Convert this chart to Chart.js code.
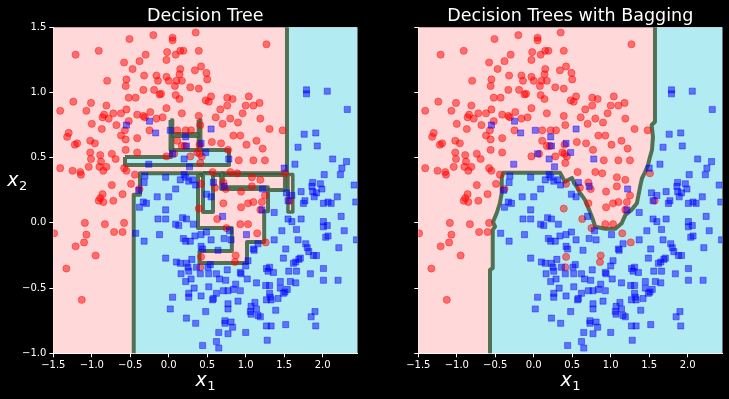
<!DOCTYPE html>
<html>
<head>
<meta charset="utf-8">
<script src="https://cdn.jsdelivr.net/npm/chart.js@4"></script>
<style>
  html, body { margin: 0; padding: 0; background: #000; }
  #wrap { position: relative; width: 729px; height: 399px; background: #000; }
  canvas { position: absolute; top: 0; }
  #treeChart { left: 0; }
  #bagChart { left: 365px; }
</style>
</head>
<body>
<div id="wrap">
  <canvas id="treeChart" width="365" height="399"></canvas>
  <canvas id="bagChart" width="364" height="399"></canvas>
</div>
<script>
// axes
const xRange = [-1.5, 2.45];
const yRange = [-1.0, 1.5];
const xTicks = [-1.5, -1.0, -0.5, 0.0, 0.5, 1.0, 1.5, 2.0];
const yTicks = [-1.0, -0.5, 0.0, 0.5, 1.0, 1.5];
const titles = ['Decision Tree', 'Decision Trees with Bagging'];

// class 0 (red circles)
const class0 = [
  [0.35,1.46],[-0.20,1.44],[0.05,1.42],[0.05,1.40],[-0.51,1.41],[1.27,1.37],[-1.21,1.29],[-0.91,1.32],
  [0.15,1.32],[0.19,1.32],[-0.02,1.31],[0.39,1.32],[0.09,1.29],[-0.30,1.29],[-0.58,1.23],[-0.38,1.24],
  [-0.03,1.25],[-0.47,1.18],[0.42,1.20],[0.34,1.17],[0.15,1.18],[0.49,1.15],[-0.32,1.13],[-0.16,1.13],
  [-0.03,1.12],[0.14,1.14],[0.50,1.10],[-0.55,1.10],[-0.14,1.09],[0.17,1.09],[0.00,1.09],[0.10,1.09],
  [-0.80,1.09],[0.28,1.04],[-0.56,1.05],[0.39,1.03],[0.08,1.05],[-0.19,1.02],[-0.33,1.02],[-0.10,0.99],
  [-0.12,0.985],[0.09,0.98],[0.14,0.95],[-0.52,0.96],[-0.43,0.96],[-1.24,0.93],[-1.01,0.92],[-0.81,0.90],
  [-0.03,0.88],[0.48,0.94],[0.55,0.97],[0.76,0.96],[0.83,0.95],[1.04,0.97],[0.52,0.93],[1.00,0.90],
  [1.18,0.92],[1.10,0.90],[-1.41,0.86],[-1.07,0.86],[-0.84,0.83],[-0.72,0.84],[-0.62,0.84],[-0.55,0.87],
  [-0.41,0.83],[-0.33,0.82],[-0.24,0.85],[-0.08,0.81],[0.17,0.84],[0.39,0.82],[0.67,0.87],[0.76,0.90],
  [0.96,0.84],[0.80,0.80],[-0.86,0.81],[-0.78,0.80],[-1.00,0.76],[-0.68,0.75],[-0.52,0.78],[-0.31,0.81],
  [-0.16,0.80],[0.41,0.75],[0.61,0.81],[0.70,0.76],[0.90,0.77],[1.19,0.80],[1.31,0.72],[1.48,0.71],
  [-0.87,0.72],[-0.62,0.67],[-0.57,0.71],[-0.25,0.71],[0.11,0.71],[0.22,0.71],[0.29,0.71],[-1.30,0.69],
  [-1.32,0.66],[-1.22,0.60],[-1.19,0.61],[-0.96,0.61],[-1.02,0.63],[-0.56,0.64],[-0.41,0.65],[0.11,0.63],
  [0.17,0.59],[0.21,0.59],[0.40,0.60],[0.56,0.62],[0.68,0.61],[0.84,0.67],[0.93,0.67],[1.01,0.60],
  [1.14,0.63],[1.22,0.57],[-1.02,0.54],[-0.89,0.52],[-0.74,0.53],[-0.56,0.56],[-0.41,0.54],[-0.03,0.51],
  [0.07,0.53],[0.28,0.51],[0.37,0.54],[0.40,0.53],[0.43,0.51],[0.77,0.56],[0.91,0.48],[1.10,0.48],
  [1.25,0.48],[-1.01,0.49],[-0.88,0.47],[-1.41,0.42],[-1.25,0.40],[-1.15,0.39],[-1.14,0.37],[-1.04,0.43],
  [-0.90,0.43],[-0.85,0.40],[-0.81,0.43],[-0.69,0.49],[-0.58,0.42],[-0.55,0.40],[-0.44,0.37],[0.41,0.46],
  [0.57,0.39],[0.80,0.39],[0.89,0.38],[1.08,0.35],[1.51,0.38],[-0.74,0.29],[-0.86,0.22],[-0.60,0.22],
  [-0.49,0.30],[-0.38,0.26],[0.42,0.30],[0.60,0.27],[0.71,0.31],[0.74,0.26],[0.94,0.24],[1.08,0.28],
  [1.19,0.33],[1.25,0.21],[-0.89,0.19],[-0.91,0.17],[-0.72,0.17],[-0.85,0.16],[-1.09,0.00],[-0.83,-0.01],
  [-0.58,0.00],[-1.49,-0.08],[-1.07,-0.09],[-0.71,-0.07],[-0.60,-0.07],[-1.21,-0.18],[-1.10,-0.15],
  [-0.95,-0.25],[-1.33,-0.35],[-1.13,-0.59],[0.39,0.11],[0.71,0.15],[0.94,0.12],[1.03,0.15],[1.10,0.16],
  [1.21,0.16],[0.63,0.03],[0.93,-0.01],[1.03,-0.01],[0.75,-0.04],[1.15,-0.08],[1.26,-0.15],[0.42,-0.26],
  [0.87,-0.25],[0.86,-0.30],[0.41,-0.34],[1.19,0.10],[1.57,0.17]
];

// class 1 (blue squares)
const class1 = [
  [1.79,1.02],[1.79,0.99],[2.06,1.01],[2.32,0.87],[-0.55,0.75],[-0.25,0.78],[0.55,0.72],[0.02,0.71],
  [-0.17,0.69],[0.22,0.66],[0.23,0.59],[0.42,0.61],[0.48,0.54],[0.05,0.53],[0.20,0.49],[0.27,0.43],
  [0.78,0.49],[-0.26,0.45],[1.76,0.68],[1.91,0.69],[1.68,0.58],[1.93,0.59],[2.13,0.49],[1.64,0.45],
  [2.31,0.47],[2.25,0.42],[1.50,0.42],[2.02,0.37],[2.23,0.37],[2.41,0.29],[1.87,0.31],[1.97,0.30],
  [1.86,0.28],[1.87,0.24],[1.92,0.23],[1.89,0.20],[1.72,0.24],[1.99,0.26],[1.53,0.23],[1.60,0.21],
  [2.19,0.20],[-0.31,0.36],[-0.32,0.31],[-0.04,0.35],[0.20,0.37],[0.22,0.35],[0.26,0.32],[0.31,0.33],
  [0.35,0.29],[0.15,0.33],[0.09,0.26],[-0.15,0.20],[0.00,0.20],[-0.39,0.25],[0.58,0.31],[0.72,0.28],
  [0.49,0.22],[0.55,0.20],[1.22,0.26],[-0.33,0.16],[-0.29,0.15],[-0.38,0.12],[-0.04,0.10],[-0.14,0.03],
  [-0.04,0.03],[0.18,0.04],[0.23,0.03],[0.09,-0.01],[0.13,-0.02],[0.32,-0.01],[-0.43,-0.08],[-0.12,-0.09],
  [-0.32,-0.14],[0.19,-0.12],[0.22,-0.14],[0.28,-0.14],[0.34,-0.10],[0.42,-0.09],[0.49,-0.07],[0.55,-0.13],
  [0.70,0.05],[0.79,-0.06],[0.72,-0.12],[0.81,-0.13],[1.01,-0.09],[1.16,-0.16],[1.10,-0.20],[1.11,-0.21],
  [1.21,0.10],[1.37,0.08],[1.55,0.03],[1.60,0.01],[1.72,0.03],[1.66,-0.05],[1.47,-0.06],[1.37,-0.13],
  [1.52,-0.20],[1.68,-0.13],[1.78,-0.16],[1.80,-0.19],[1.82,-0.22],[1.88,-0.25],[1.92,-0.25],[2.01,0.01],
  [2.06,-0.02],[2.07,-0.10],[2.04,-0.11],[2.01,-0.03],[2.24,0.05],[2.28,-0.06],[2.21,-0.19],[2.01,0.15],
  [2.07,0.16],[2.11,0.15],[1.75,0.15],[1.77,0.17],[1.55,0.17],[2.43,0.16],[2.44,-0.13],[-0.04,-0.27],
  [0.10,-0.30],[0.15,-0.31],[0.23,-0.31],[0.25,-0.34],[0.26,-0.37],[0.30,-0.28],[0.36,-0.34],[0.42,-0.18],
  [0.44,-0.20],[0.41,-0.39],[0.51,-0.34],[0.52,-0.39],[0.54,-0.32],[0.62,-0.39],[0.64,-0.21],[0.76,-0.36],
  [0.93,-0.38],[0.94,-0.39],[1.03,-0.29],[1.00,-0.33],[1.27,-0.35],[1.29,-0.37],[1.31,-0.34],[1.36,-0.38],
  [1.49,-0.27],[1.62,-0.31],[1.65,-0.30],[1.69,-0.28],[1.71,-0.27],[1.66,-0.37],[2.01,-0.35],[0.22,-0.45],
  [0.29,-0.43],[0.52,-0.49],[0.66,-0.43],[0.74,-0.44],[0.87,-0.47],[1.02,-0.43],[1.14,-0.46],[1.26,-0.48],
  [1.31,-0.48],[1.45,-0.45],[1.58,-0.45],[1.65,-0.46],[1.84,-0.39],[2.01,-0.44],[2.20,-0.44],[0.33,-0.50],
  [0.26,-0.54],[0.26,-0.57],[0.42,-0.56],[0.62,-0.54],[0.71,-0.52],[0.77,-0.52],[0.84,-0.51],[0.93,-0.52],
  [1.31,-0.54],[1.32,-0.57],[1.33,-0.59],[1.45,-0.50],[1.49,-0.54],[1.54,-0.51],[1.51,-0.53],[1.42,-0.58],
  [1.27,-0.59],[0.05,-0.57],[0.02,-0.66],[0.57,-0.59],[0.58,-0.58],[0.77,-0.62],[0.77,-0.66],[0.90,-0.60],
  [1.12,-0.61],[1.07,-0.64],[1.06,-0.68],[1.07,-0.70],[1.14,-0.66],[1.16,-0.71],[1.19,-0.72],[1.39,-0.67],
  [0.48,-0.68],[0.23,-0.73],[0.35,-0.77],[0.73,-0.75],[0.73,-0.77],[0.81,-0.76],[0.83,-0.80],[0.77,-0.85],
  [1.00,-0.84],[1.27,-0.79],[1.33,-0.79],[1.52,-0.78],[1.28,-0.90],[0.65,-0.84],[0.62,-0.91],[0.65,-0.96],
  [0.44,-0.94],[1.85,-0.72],[1.90,-0.68],[1.91,-0.79],[1.56,-0.37],[0.16,-0.39]
];

// decision regions (polygon vertices in data units)
const wholePlane = [[-3,-3],[4,-3],[4,3],[-3,3],[-3,-3]];
const treeCyanMain = [[-0.455,-1.3],[-0.455,0.215],[-0.374,0.215],[-0.374,0.38],[1.536,0.38],[1.536,1.8],
  [2.8,1.8],[2.8,-1.3],[-0.455,-1.3]];
const treePinkPocket = [[0.38,0.367],[1.51,0.367],[1.51,0.252],[1.29,0.252],[1.29,0.09],[1.24,0.09],
  [1.24,-0.146],[1.017,-0.146],[1.017,-0.308],[0.40,-0.308],[0.40,-0.215],[0.82,-0.215],[0.82,-0.039],
  [0.38,-0.039],[0.38,0.367]];
const treePinkSliver = [[1.549,0.372],[1.612,0.372],[1.612,0.084],[1.549,0.084],[1.549,0.372]];
const treeCyanFinger = [[0.445,0.38],[0.575,0.38],[0.575,0.084],[0.445,0.084],[0.445,0.38]];
const treeCyanHook = [[0.679,0.38],[0.705,0.38],[0.705,0.275],[1.29,0.275],[1.29,0.258],[0.679,0.258],[0.679,0.38]];
const treeCyanStrip = [[-0.568,0.505],[0.03,0.505],[0.03,0.559],[0.783,0.559],[0.783,0.444],[-0.568,0.444],[-0.568,0.505]];
const treeCyanStemL = [[0.02,0.79],[0.05,0.79],[0.05,0.559],[0.02,0.559],[0.02,0.79]];
const treeCyanStemR = [[0.385,0.79],[0.415,0.79],[0.415,0.559],[0.385,0.559],[0.385,0.79]];
const treeCyanBar = [[0.05,0.683],[0.385,0.683],[0.385,0.665],[0.05,0.665],[0.05,0.683]];

const bagCyanRegion = [[-0.568,-1.3],[-0.568,-0.361],[-0.533,-0.346],[-0.533,-0.054],[-0.503,-0.029],
  [-0.530,0.007],[-0.481,0.076],[-0.439,0.153],[-0.416,0.229],[-0.416,0.344],[-0.396,0.385],[0.341,0.385],
  [0.406,0.316],[0.445,0.329],[0.497,0.344],[0.523,0.306],[0.562,0.275],[0.601,0.229],[0.666,0.176],
  [0.72,0.10],[0.76,0.04],[0.80,-0.03],[0.93,-0.045],[1.06,-0.045],[1.14,-0.005],[1.19,0.06],[1.27,0.10],
  [1.34,0.15],[1.381,0.275],[1.407,0.344],[1.446,0.390],[1.485,0.444],[1.510,0.505],[1.536,0.559],
  [1.549,0.659],[1.532,0.751],[1.575,0.776],[1.575,1.8],[2.8,1.8],[2.8,-1.3],[-0.568,-1.3]];

const pinkFill = 'rgb(255,217,217)';
const cyanFill = 'rgb(179,235,242)';
const edgeColor = 'rgba(58,92,58,0.85)';
const fontFamily = '"DejaVu Sans"';

Chart.defaults.font.family = fontFamily;
Chart.defaults.color = '#ffffff';

function region(pts, color, order, bw) {
  return {
    data: pts.map(p => ({x: p[0], y: p[1]})),
    showLine: true, fill: 'shape', backgroundColor: color,
    borderColor: edgeColor, borderWidth: bw, pointRadius: 0,
    borderJoinStyle: 'round', order: order, clip: 0
  };
}

function pointsSet(pts, style, color, r, order) {
  return {
    data: pts.map(p => ({x: p[0], y: p[1]})),
    showLine: false, pointStyle: style, pointRadius: r,
    backgroundColor: color, borderColor: color, borderWidth: 0.8,
    order: order, clip: 0
  };
}

function tickText(v) {
  const s = Math.abs(v) < 1e-9 ? '0.0' : v.toFixed(1);
  return s.replace('-', '\u2212');
}

function drawMath(ctx, base, sub, cx, y) {
  ctx.font = 'italic 19px ' + fontFamily;
  const w1 = ctx.measureText(base).width;
  ctx.font = '13px ' + fontFamily;
  const w2 = ctx.measureText(sub).width;
  const x = cx - (w1 + w2) / 2;
  ctx.textAlign = 'left';
  ctx.font = 'italic 19px ' + fontFamily;
  ctx.fillText(base, x, y);
  ctx.font = '13px ' + fontFamily;
  ctx.fillText(sub, x + w1 + 0.5, y + 4);
}

const textPlugin = {
  id: 'texts',
  afterDraw(chart, args, opts) {
    const ctx = chart.ctx;
    const a = chart.chartArea;
    const cx = (a.left + a.right) / 2;
    ctx.save();
    ctx.fillStyle = '#ffffff';
    ctx.textBaseline = 'alphabetic';
    ctx.textAlign = 'center';
    ctx.font = '17.5px ' + fontFamily;
    ctx.fillText(opts.title, cx, 20.5);
    drawMath(ctx, 'x', '1', cx, 386);
    if (opts.ylabel) drawMath(ctx, 'x', '2', 17, 186);
    ctx.restore();
  }
};

function makeChart(id, regions, title, showY, rightPad) {
  const datasets = [
    pointsSet(class1, 'rect', 'rgba(0,0,255,0.5)', 4.3, 0),
    pointsSet(class0, 'circle', 'rgba(255,0,0,0.5)', 3.6, 1)
  ].concat(regions);
  return new Chart(document.getElementById(id), {
    type: 'scatter',
    data: { datasets: datasets },
    plugins: [textPlugin],
    options: {
      responsive: false,
      devicePixelRatio: 1,
      animation: false,
      events: [],
      layout: { padding: { top: 27.3, right: rightPad, left: 0, bottom: 0 } },
      plugins: {
        legend: { display: false },
        tooltip: { enabled: false },
        texts: { title: title, ylabel: showY }
      },
      scales: {
        x: {
          type: 'linear', min: xRange[0], max: xRange[1],
          afterBuildTicks: s => { s.ticks = xTicks.map(v => ({value: v})); },
          afterFit: s => { s.height = 45.7; },
          ticks: { color: '#ffffff', font: { size: 10 }, padding: 2, maxRotation: 0, autoSkip: false, callback: v => tickText(v) },
          grid: { drawOnChartArea: false, drawTicks: true, tickLength: 4, color: '#ffffff' },
          border: { display: true, color: '#ffffff', width: 1 }
        },
        y: {
          type: 'linear', min: yRange[0], max: yRange[1],
          afterBuildTicks: s => { s.ticks = yTicks.map(v => ({value: v})); },
          afterFit: s => { s.width = 53.3; },
          ticks: { color: '#ffffff', font: { size: 10 }, padding: 3, autoSkip: false, callback: v => showY ? tickText(v) : '' },
          grid: { drawOnChartArea: false, drawTicks: true, tickLength: 4, color: '#ffffff' },
          border: { display: true, color: '#ffffff', width: 1 }
        }
      }
    }
  });
}

makeChart('treeChart', [
  region(treeCyanBar, cyanFill, 2, 3.5),
  region(treeCyanStemL, cyanFill, 2, 3.5),
  region(treeCyanStemR, cyanFill, 2, 3.5),
  region(treeCyanStrip, cyanFill, 3, 4),
  region(treeCyanHook, cyanFill, 3, 3.5),
  region(treeCyanFinger, cyanFill, 3, 4),
  region(treePinkSliver, pinkFill, 4, 3.5),
  region(treePinkPocket, pinkFill, 4, 4),
  region(treeCyanMain, cyanFill, 5, 4),
  region(wholePlane, pinkFill, 6, 0)
], titles[0], true, 7.7);

makeChart('bagChart', [
  region(bagCyanRegion, cyanFill, 5, 4),
  region(wholePlane, pinkFill, 6, 0)
], titles[1], false, 6.7);
</script>
</body>
</html>
